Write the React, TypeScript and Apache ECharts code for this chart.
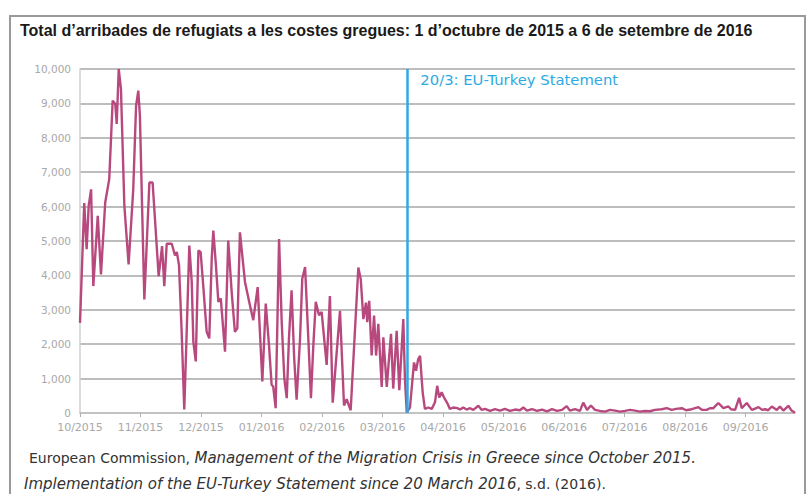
import React, { useEffect, useRef } from "react";
import * as echarts from "echarts";

const titleText =
  "Total d’arribades de refugiats a les costes gregues: 1 d’octubre de 2015 a 6 de setembre de 2016";

const monthLabels = [
  "10/2015", "11/2015", "12/2015", "01/2016", "02/2016", "03/2016",
  "04/2016", "05/2016", "06/2016", "07/2016", "08/2016", "09/2016",
];

// x position in days from the 10/2015 tick (30 days per month tick)
const dayIndex = [
  0, 2.1, 3.3, 4.3, 5.5, 6.6, 8.8, 10.4, 12.5, 14.5, 16.2, 17.5, 18.2, 19.2, 20.3,
  22.0, 24.1, 26.4, 27.8, 28.9, 29.7, 31.9, 34.4, 36.0, 39.0, 40.7, 41.8, 43.0, 45.5,
  47.1, 48.0, 49.1, 50.4, 51.7, 52.9, 54.2, 55.4, 56.2, 57.4, 58.7, 59.8, 61.1, 62.8,
  64.1, 65.3, 66.1, 67.4, 68.6, 69.8, 71.9, 73.5, 75.2, 76.8, 78.0, 79.3, 81.8, 83.9,
  85.9, 88.1, 89.2, 90.4, 92.1, 93.7, 95.0, 95.8, 97.0, 98.7, 100.0, 101.3, 102.5,
  103.6, 104.9, 106.2, 107.4, 109.1, 110.2, 111.6, 113.2, 114.5, 115.7, 116.9, 118.5,
  119.8, 122.3, 123.9, 125.3, 128.9, 130.9, 132.2, 134.2, 138.0, 139.2, 140.5, 141.8,
  142.4, 143.4, 144.6, 145.8, 146.8, 147.9, 149.6, 150.4, 152.1, 154.2, 155.3, 157.0,
  158.3, 160.3, 161.1, 162.0, 163.6, 165.6, 166.6, 167.7, 168.6, 169.9, 171.0, 172.7,
  174.4, 176.0, 177.1, 178.1, 179.3, 180.5, 181.9, 183.4, 185.1, 187.1, 188.4, 190.0,
  191.7, 193.4, 195.0, 197.5, 199.2, 200.8, 203.3, 205.8, 208.2, 210.7, 213.2, 215.7,
  218.1, 219.8, 221.6, 224.1, 226.6, 229.1, 231.5, 234.0, 236.5, 239.0, 241.3, 242.9,
  245.4, 247.9, 249.5, 251.4, 253.3, 255.3, 257.8, 260.3, 262.8, 265.3, 267.7, 270.2,
  272.7, 275.2, 277.6, 280.1, 282.6, 285.1, 288.4, 290.9, 293.4, 295.5, 298.4, 300.5,
  303.3, 306.6, 308.5, 310.7, 312.3, 314.0, 316.5, 319.0, 321.5, 322.8, 324.8, 326.8,
  328.1, 330.6, 333.1, 334.7, 336.4, 338.2, 339.7, 341.2, 343.0, 345.5, 347.0, 348.7,
  351.2, 352.8, 354.5,
];

const arrivals = [
  2620, 6100, 4760, 6020, 6500, 3690, 5730, 4030, 6120, 6800, 9080, 8980, 8400, 10000, 9420,
  6020, 4320, 6500, 8930, 9370, 8640, 3300, 6700, 6700, 3980, 4850, 3690, 4920, 4920,
  4580, 4680, 4290, 2360, 100, 2360, 4870, 3810, 2070, 1500, 4720, 4680, 3710, 2360,
  2170, 4480, 5300, 4290, 3230, 3330, 1780, 5010, 3520, 2360, 2460, 5250, 3810, 3230,
  2700, 3660, 2360, 920, 3180, 1980, 820, 770, 140, 5060, 2650, 1010, 430,
  2170, 3570, 1590, 390, 2170, 3900, 4240, 2170, 430, 1980, 3230, 2840,
  2940, 1400, 3400, 300, 2970, 220, 400, 80, 4230, 3890, 2730, 3210,
  2640, 3260, 1670, 2830, 1670, 2590, 760, 2200, 760, 2300, 710, 2390,
  660, 2730, 1000, 20, 160, 1470, 1230, 1570, 1660, 600, 120, 160,
  120, 310, 790, 450, 600, 450, 310, 120, 160, 140, 100, 160,
  100, 140, 90, 210, 90, 120, 60, 110, 70, 120, 60, 100,
  80, 160, 70, 110, 60, 100, 50, 110, 60, 90, 200, 70,
  110, 60, 300, 90, 220, 90, 60, 40, 90, 70, 40, 60,
  90, 70, 40, 60, 50, 90, 110, 140, 90, 120, 140, 80,
  110, 170, 90, 90, 140, 140, 290, 140, 190, 110, 90, 440,
  140, 290, 90, 130, 170, 90, 110, 80, 190, 90, 190, 70,
  210, 70, 10,
];

const statementDay = 162.3;
const statementLabel = "20/3: EU-Turkey Statement";
const captionLine1Plain = "European Commission, ";
const captionLine1Italic = "Management of the Migration Crisis in Greece since October 2015.";
const captionLine2Italic = "Implementation of the EU-Turkey Statement since 20 March 2016";
const captionLine2Plain = ", s.d. (2016).";

const LINE_COLOR = "#b8497e";
const BLUE = "#2eaae2";

export default function App() {
  const ref = useRef<HTMLDivElement>(null);

  useEffect(() => {
    if (!ref.current) return;
    const chart = echarts.init(ref.current, null, { renderer: "svg" });
    const data = dayIndex.map((d, i) => [d, arrivals[i]]);
    chart.setOption({
      animation: false,
      backgroundColor: "#ffffff",
      grid: { left: 80, right: 14, top: 69, bottom: 81, containLabel: false },
      xAxis: {
        type: "value",
        min: 0,
        max: 354.5,
        interval: 30,
        axisLine: { show: true, lineStyle: { color: "#c4c4c4", width: 1.5 } },
        axisTick: { show: true, length: 4, lineStyle: { color: "#b0b0b0" } },
        splitLine: { show: false },
        axisLabel: {
          showMaxLabel: false,
          color: "#a8a8a8",
          fontFamily: "DejaVu Sans",
          fontSize: 11,
          margin: 9,
          formatter: (v: number) => {
            const idx = Math.round(v / 30);
            return Math.abs(v - idx * 30) < 0.01 && monthLabels[idx] ? monthLabels[idx] : "";
          },
        },
      },
      yAxis: {
        type: "value",
        min: 0,
        max: 10000,
        interval: 1000,
        axisLine: { show: true, lineStyle: { color: "#d0d0d0", width: 1.5 } },
        axisTick: { show: false },
        splitLine: { show: true, lineStyle: { color: "#bdbdbd", width: 1.8 } },
        axisLabel: {
          color: "#a8a8a8",
          fontFamily: "DejaVu Sans",
          fontSize: 10.5,
          margin: 9,
          formatter: (v: number) => v.toLocaleString("en-US"),
        },
      },
      series: [
        {
          type: "line",
          data,
          showSymbol: false,
          symbol: "none",
          lineStyle: { color: LINE_COLOR, width: 2.4 },
          markLine: {
            silent: true,
            symbol: "none",
            label: { show: false },
            lineStyle: { color: BLUE, width: 2.5, type: "solid" },
            data: [{ xAxis: statementDay }],
          },
        },
      ],
    });

    const top = chart.convertToPixel({ xAxisIndex: 0, yAxisIndex: 0 }, [statementDay, 10000]) as number[];

    chart.setOption({
      graphic: [
        {
          type: "rect",
          silent: true,
          shape: { x: 10, y: 16, width: 795, height: 490 },
          style: { fill: "none", stroke: "#9a9a9a", lineWidth: 2 },
        },
        {
          type: "text",
          x: 20,
          y: 30,
          style: {
            text: titleText,
            font: "bold 16px 'Liberation Sans'",
            fill: "#1a1a1a",
            textVerticalAlign: "middle",
          },
        },
        {
          type: "text",
          x: top[0] + 13,
          y: top[1] + 10,
          style: {
            text: statementLabel,
            font: "14.8px 'DejaVu Sans'",
            fill: BLUE,
            textVerticalAlign: "middle",
          },
        },
        {
          type: "text",
          x: 29,
          y: 458,
          style: {
            text: `{n|${captionLine1Plain}}{i|${captionLine1Italic}}`,
            textVerticalAlign: "middle",
            rich: {
              n: { font: "14px 'DejaVu Sans'", fill: "#333333" },
              i: { font: "italic 15px 'DejaVu Sans'", fill: "#333333" },
            },
          },
        },
        {
          type: "text",
          x: 24,
          y: 484,
          style: {
            text: `{i|${captionLine2Italic}}{n|${captionLine2Plain}}`,
            textVerticalAlign: "middle",
            rich: {
              n: { font: "14px 'DejaVu Sans'", fill: "#333333" },
              i: { font: "italic 15px 'DejaVu Sans'", fill: "#333333" },
            },
          },
        },
      ],
    });

    return () => chart.dispose();
  }, []);

  return (
    <div
      ref={ref}
      style={{ position: "fixed", left: 0, top: 0, width: 809, height: 494 }}
    />
  );
}
